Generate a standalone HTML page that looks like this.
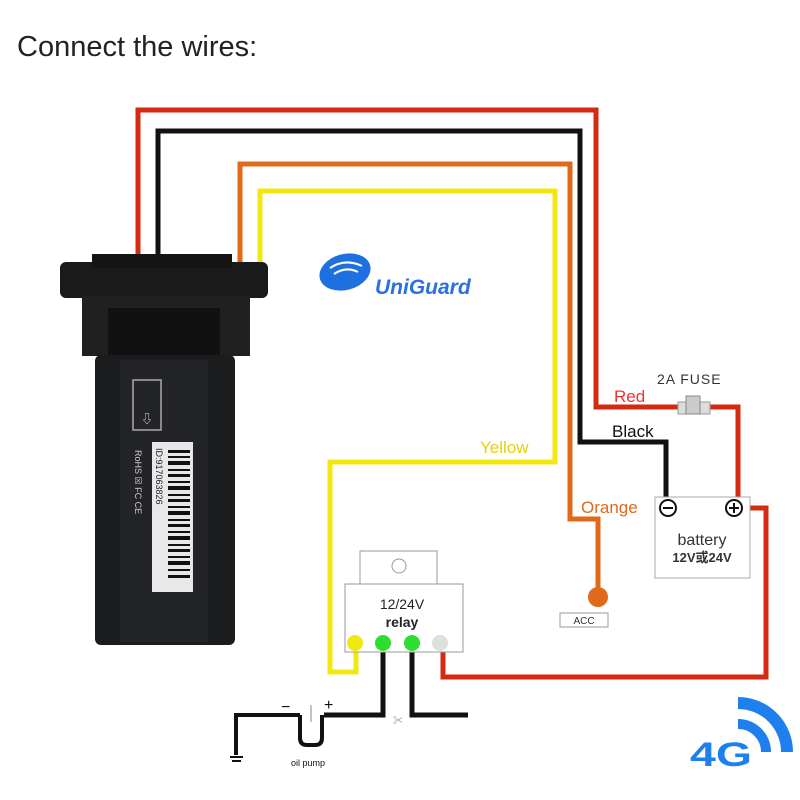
<!DOCTYPE html>
<html><head><meta charset="utf-8"><style>
html,body{margin:0;padding:0;background:#fff;width:800px;height:800px;overflow:hidden}
svg{display:block}
text{font-family:"Liberation Sans","Noto Sans CJK SC",sans-serif}
</style></head><body>
<svg width="800" height="800" viewBox="0 0 800 800" xmlns="http://www.w3.org/2000/svg">
<rect width="800" height="800" fill="#fff"/>
<text x="17" y="56" font-size="29" fill="#222">Connect the wires:</text>

<g fill="none" stroke-width="5" stroke-linejoin="miter">
<polyline stroke="#d42a12" points="138,260 138,110 596,110 596,407 680,407"/>
<polyline stroke="#d42a12" points="708,407 738,407 738,497"/>
<polyline stroke="#111" points="158,260 158,131 580,131 580,442 666,442 666,497"/>
<polyline stroke="#e06a1a" points="240,268 240,164 570,164 570,519 598,519 598,590"/>
<polyline stroke="#f2e80f" points="260,272 260,191 555,191 555,462 330,462 330,672 356,672 356,650"/>
<polyline stroke="#d42a12" points="750,508 766,508 766,677 443,677 443,650"/>
<polyline stroke="#111" points="383,652 383,715 324,715"/>
<polyline stroke="#111" points="412,652 412,715 468,715"/>
<polyline stroke="#111" stroke-width="4" points="300,715 236,715 236,755"/>
<path d="M300,715 L300,738 Q300,745 307,745 L315,745 Q322,745 322,738 L322,715" stroke="#111" stroke-width="4"/>
</g>
<line x1="230" y1="757" x2="243" y2="757" stroke="#111" stroke-width="2"/>
<line x1="232" y1="761" x2="241" y2="761" stroke="#111" stroke-width="2"/>
<line x1="311" y1="705" x2="311" y2="722" stroke="#888" stroke-width="1"/>
<text x="281" y="712" font-size="16" fill="#111">−</text>
<text x="324" y="710" font-size="16" fill="#111">+</text>
<text x="291" y="766" font-size="9" fill="#111">oil pump</text>
<text x="393" y="724" font-size="10" fill="#888">✂</text>

<rect x="678" y="402" width="32" height="12" fill="#ddd" stroke="#999"/>
<rect x="686" y="396" width="14" height="18" fill="#ccc" stroke="#888"/>
<text x="657" y="384" font-size="14" fill="#333" letter-spacing="1">2A  FUSE</text>
<text x="614" y="402" font-size="17" fill="#e33">Red</text>
<text x="612" y="437" font-size="17" fill="#111">Black</text>
<text x="581" y="513" font-size="17" fill="#e06a1a">Orange</text>
<text x="480" y="453" font-size="17" fill="#e6d20a">Yellow</text>

<rect x="655" y="497" width="95" height="81" fill="#fff" stroke="#aaa"/>
<circle cx="668" cy="508" r="8" fill="#fff" stroke="#111" stroke-width="2"/>
<line x1="663" y1="508" x2="673" y2="508" stroke="#111" stroke-width="2"/>
<circle cx="734" cy="508" r="8" fill="#fff" stroke="#111" stroke-width="2"/>
<line x1="729" y1="508" x2="739" y2="508" stroke="#111" stroke-width="2"/>
<line x1="734" y1="503" x2="734" y2="513" stroke="#111" stroke-width="2"/>
<text x="702" y="545" font-size="16" fill="#333" text-anchor="middle">battery</text>
<text x="702" y="562" font-size="13" fill="#333" text-anchor="middle" font-weight="bold">12V或24V</text>

<circle cx="598" cy="597" r="10" fill="#e06a1a"/>
<rect x="560" y="613" width="48" height="14" fill="#fff" stroke="#999"/>
<text x="584" y="624" font-size="10" fill="#333" text-anchor="middle">ACC</text>

<rect x="360" y="551" width="77" height="33" fill="#fff" stroke="#999"/>
<circle cx="399" cy="566" r="7" fill="#fff" stroke="#999"/>
<rect x="345" y="584" width="118" height="68" fill="#fff" stroke="#999"/>
<text x="402" y="609" font-size="14" fill="#222" text-anchor="middle">12/24V</text>
<text x="402" y="627" font-size="14" fill="#222" text-anchor="middle" font-weight="bold">relay</text>
<circle cx="355" cy="643" r="8" fill="#f2e80f"/>
<circle cx="383" cy="643" r="8" fill="#2ede2e"/>
<circle cx="412" cy="643" r="8" fill="#2ede2e"/>
<circle cx="440" cy="643" r="8" fill="#dde0dc"/>

<rect x="60" y="262" width="208" height="36" rx="6" fill="#1a1a1a"/>
<rect x="92" y="254" width="140" height="14" fill="#141414"/>
<rect x="82" y="296" width="168" height="60" fill="#202020"/>
<rect x="108" y="308" width="112" height="50" fill="#111"/>
<rect x="95" y="355" width="140" height="290" rx="6" fill="#1b1c1e"/>
<rect x="120" y="360" width="88" height="282" fill="#232427"/>
<rect x="133" y="380" width="28" height="50" fill="none" stroke="#aaa" stroke-width="1.5"/>
<text x="147" y="423" font-size="12" fill="#ddd" text-anchor="middle">⇩</text>
<rect x="152" y="442" width="41" height="150" fill="#e8e8e8"/>
<g fill="#111">
<rect x="168" y="450" width="22" height="3"/><rect x="168" y="456" width="22" height="2"/><rect x="168" y="461" width="22" height="4"/>
<rect x="168" y="469" width="22" height="2"/><rect x="168" y="474" width="22" height="3"/><rect x="168" y="481" width="22" height="2"/>
<rect x="168" y="486" width="22" height="4"/><rect x="168" y="494" width="22" height="2"/><rect x="168" y="499" width="22" height="3"/>
<rect x="168" y="506" width="22" height="2"/><rect x="168" y="511" width="22" height="4"/><rect x="168" y="519" width="22" height="2"/>
<rect x="168" y="524" width="22" height="3"/><rect x="168" y="531" width="22" height="2"/><rect x="168" y="536" width="22" height="4"/>
<rect x="168" y="544" width="22" height="2"/><rect x="168" y="549" width="22" height="3"/><rect x="168" y="556" width="22" height="2"/>
<rect x="168" y="561" width="22" height="4"/><rect x="168" y="569" width="22" height="2"/><rect x="168" y="575" width="22" height="3"/>
</g>
<text transform="translate(156,448) rotate(90)" font-size="9" fill="#222">ID:917063826</text>
<text transform="translate(135,450) rotate(90)" font-size="9" fill="#ccc">RoHS ☒ FC CE</text>

<ellipse cx="345" cy="272" rx="26" ry="18" fill="#1e6fe0" transform="rotate(-15 345 272)"/>
<path d="M330,268 Q345,258 362,266" stroke="#fff" stroke-width="2" fill="none"/>
<path d="M334,274 Q346,266 358,272" stroke="#fff" stroke-width="2" fill="none"/>
<text x="375" y="294" font-size="21" font-style="italic" font-weight="bold" fill="#2a6fe6">UniGuard</text>

<g fill="none" stroke="#1f7fef">
<path d="M738,703 A49,49 0 0 1 787,752" stroke-width="12"/>
<path d="M738,724 A28,28 0 0 1 766,752" stroke-width="10"/>
</g>
<text x="690" y="766" font-size="34" font-weight="bold" fill="#1f7fef" textLength="62" lengthAdjust="spacingAndGlyphs">4G</text>
</svg>
</body></html>
